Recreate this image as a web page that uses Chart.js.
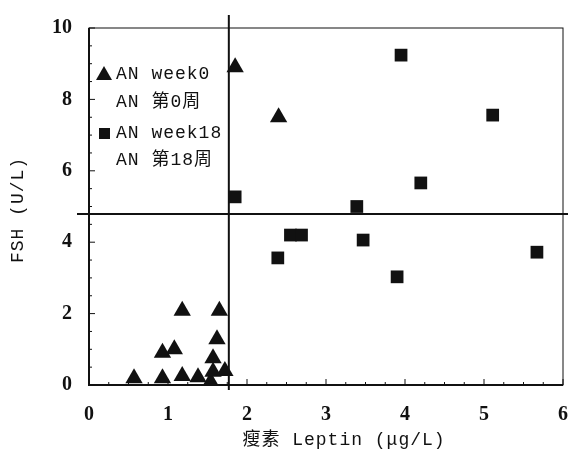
<!DOCTYPE html>
<html>
<head>
<meta charset="utf-8">
<script src="https://cdn.jsdelivr.net/npm/chart.js@4.4.0/dist/chart.umd.min.js"></script>
<style>
  html, body { margin: 0; padding: 0; background: #fff; }
</style>
</head>
<body>
<canvas id="c" width="568" height="455"></canvas>
<script>
// AN week0 (triangles)
const week0Leptin = [1.85, 2.40, 0.57, 0.93, 0.93, 1.08, 1.18, 1.18, 1.38, 1.54, 1.57, 1.57, 1.62, 1.65, 1.72];
const week0FSH    = [8.90, 7.50, 0.19, 0.19, 0.90, 1.00, 2.08, 0.25, 0.22, 0.09, 0.37, 0.75, 1.28, 2.08, 0.39];
// AN week18 (squares)
const week18Leptin = [1.85, 3.95, 5.11, 4.20, 3.39, 2.39, 2.55, 2.69, 3.47, 3.90, 5.67];
const week18FSH    = [5.27, 9.24, 7.56, 5.66, 5.00, 3.56, 4.20, 4.20, 4.06, 3.03, 3.72];
// cut-off lines
const leptinCut = 1.77;
const fshCut = 4.79;
// axes
const xTicks = [0, 1, 2, 3, 4, 5, 6];
const yTicks = [0, 2, 4, 6, 8, 10];
const legendLines = ['AN week0', 'AN 第0周', 'AN week18', 'AN 第18周'];
const xTitle = '瘦素 Leptin (μg/L)';
const yTitle = 'FSH (U/L)';

const toPts = (xs, ys) => xs.map((x, i) => ({ x: x, y: ys[i] }));
const monoFont = "18px 'Liberation Mono', 'Noto Sans CJK SC', monospace";
const tickFont = { family: "'Liberation Serif', serif", size: 20, weight: 'bold' };

const decor = {
  id: 'decor',
  beforeDatasetsDraw(chart) {
    const { ctx, chartArea: a, scales: { x, y } } = chart;
    ctx.save();
    ctx.strokeStyle = '#111';
    // frame
    ctx.lineWidth = 1;
    ctx.strokeRect(a.left, a.top, a.right - a.left, a.bottom - a.top);
    ctx.lineWidth = 2;
    ctx.beginPath();
    ctx.moveTo(a.left, a.top);
    ctx.lineTo(a.left, a.bottom);
    ctx.lineTo(a.right, a.bottom);
    ctx.stroke();
    // inside ticks
    ctx.lineWidth = 1;
    ctx.beginPath();
    for (let v = 0; v <= 10.001; v += 0.5) {
      const p = y.getPixelForValue(v);
      const len = Math.abs(v % 2) < 0.01 ? 6 : 3;
      ctx.moveTo(a.left, p); ctx.lineTo(a.left + len, p);
    }
    for (let v = 0; v <= 6.001; v += 0.25) {
      const p = x.getPixelForValue(v);
      const len = Math.abs(v - Math.round(v)) < 0.01 ? 6 : 3;
      ctx.moveTo(p, a.bottom); ctx.lineTo(p, a.bottom - len);
    }
    ctx.stroke();
    // cut-off lines
    ctx.lineWidth = 2;
    const cx = x.getPixelForValue(leptinCut);
    const cy = y.getPixelForValue(fshCut);
    ctx.beginPath();
    ctx.moveTo(cx, a.top - 13); ctx.lineTo(cx, a.bottom + 5);
    ctx.moveTo(a.left - 12, cy); ctx.lineTo(a.right + 5, cy);
    ctx.stroke();
    ctx.restore();
  },
  afterDraw(chart) {
    const { ctx, chartArea: a } = chart;
    ctx.save();
    ctx.fillStyle = '#111';
    ctx.font = monoFont;
    ctx.letterSpacing = '1px';
    ctx.textBaseline = 'middle';
    // legend
    const lx = a.left + 27;
    const rows = [a.top + 46, a.top + 74, a.top + 105, a.top + 132];
    legendLines.forEach((t, i) => ctx.fillText(t, lx, rows[i]));
    const mx = a.left + 15;
    ctx.beginPath();
    ctx.moveTo(mx, rows[0] - 8);
    ctx.lineTo(mx + 8, rows[0] + 6);
    ctx.lineTo(mx - 8, rows[0] + 6);
    ctx.closePath();
    ctx.fill();
    ctx.fillRect(mx - 5, rows[2] - 5, 11, 11);
    // axis titles
    ctx.textAlign = 'center';
    ctx.fillText(xTitle, a.left + 255, a.bottom + 55);
    ctx.translate(18, a.top + 182);
    ctx.rotate(-Math.PI / 2);
    ctx.fillText(yTitle, 0, 0);
    ctx.restore();
  }
};

new Chart(document.getElementById('c'), {
  type: 'scatter',
  data: {
    datasets: [
      {
        label: 'AN week0',
        data: toPts(week0Leptin, week0FSH),
        pointStyle: 'triangle',
        pointRadius: 10,
        backgroundColor: '#111',
        borderColor: '#111',
        borderWidth: 0
      },
      {
        label: 'AN week18',
        data: toPts(week18Leptin, week18FSH),
        pointStyle: 'rect',
        pointRadius: 9,
        backgroundColor: '#111',
        borderColor: '#111',
        borderWidth: 0
      }
    ]
  },
  options: {
    responsive: false,
    animation: false,
    layout: { autoPadding: false, padding: { top: 28, right: 5, left: 0, bottom: 0 } },
    plugins: { legend: { display: false }, tooltip: { enabled: false } },
    scales: {
      x: {
        type: 'linear',
        min: 0, max: 6,
        afterFit: s => { s.height = 70; s.paddingLeft = 0; s.paddingRight = 0; },
        afterBuildTicks: s => { s.ticks = xTicks.map(v => ({ value: v })); },
        grid: { display: false, drawTicks: false },
        border: { display: false },
        ticks: { padding: 18, color: '#111', font: tickFont }
      },
      y: {
        type: 'linear',
        min: 0, max: 10,
        afterFit: s => { s.width = 89; s.paddingTop = 0; s.paddingBottom = 0; },
        afterBuildTicks: s => { s.ticks = yTicks.map(v => ({ value: v })); },
        grid: { display: false, drawTicks: false },
        border: { display: false },
        ticks: { padding: 17, color: '#111', font: tickFont }
      }
    }
  },
  plugins: [decor]
});
</script>
</body>
</html>
